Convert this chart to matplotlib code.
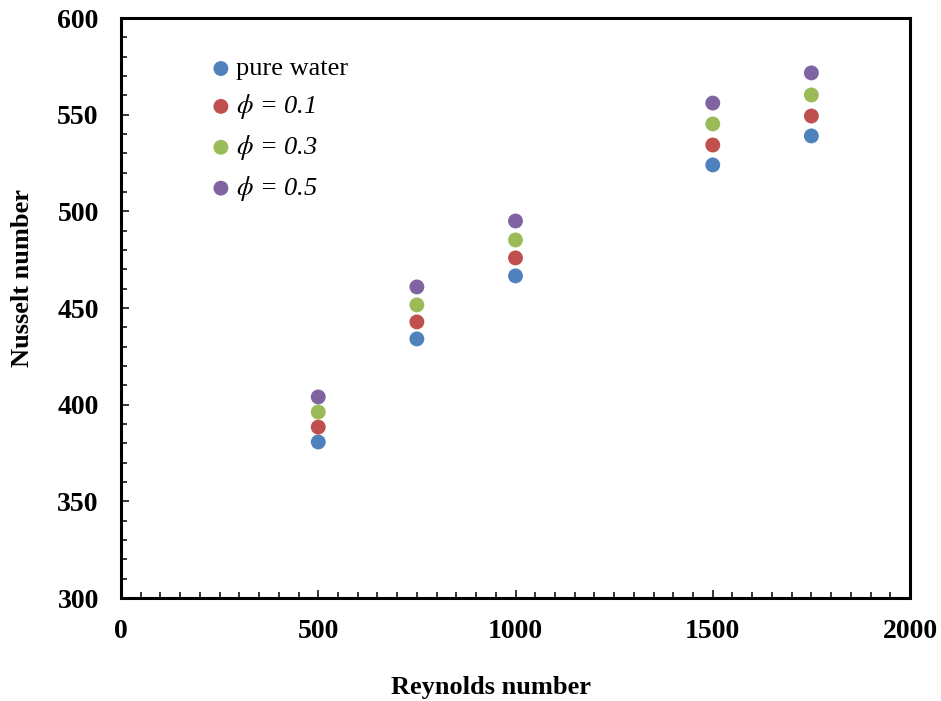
import matplotlib
matplotlib.use("Agg")
import matplotlib.pyplot as plt
from matplotlib.ticker import MultipleLocator

reynolds = [500, 750, 1000, 1500, 1750]
nu_water = [380.7, 434.0, 466.6, 524.0, 539.0]
nu_phi01 = [388.4, 442.8, 475.9, 534.3, 549.3]
nu_phi03 = [396.2, 451.6, 485.2, 545.2, 560.2]
nu_phi05 = [404.0, 460.9, 495.0, 556.0, 571.6]
labels = ["pure water", r"$\phi$ = 0.1", r"$\phi$ = 0.3", r"$\phi$ = 0.5"]
colors = ["#4F81BD", "#C0504D", "#9BBB59", "#8064A2"]

plt.rcParams["font.family"] = ["Liberation Serif", "DejaVu Serif"]
plt.rcParams["mathtext.fontset"] = "stix"

fig = plt.figure(figsize=(9.41, 7.01), dpi=100)
ax = fig.add_axes([121/941, 1-598/701, (910-121)/941, (598-18)/701])

series = [nu_water, nu_phi01, nu_phi03, nu_phi05]
for vals, lab, col in zip(series, labels, colors):
    ax.scatter(reynolds, vals, s=115, color=col, label=lab, edgecolors="none", zorder=3)

ax.set_xlim(0, 2000)
ax.set_ylim(300, 600)
ax.xaxis.set_major_locator(MultipleLocator(500))
ax.xaxis.set_minor_locator(MultipleLocator(50))
ax.yaxis.set_major_locator(MultipleLocator(50))
ax.yaxis.set_minor_locator(MultipleLocator(10))
ax.tick_params(which="both", direction="in", top=False, right=False, width=1.1)
ax.tick_params(which="major", length=5.5, labelsize=20)
ax.tick_params(axis="y", which="major", pad=16)
ax.tick_params(axis="x", which="major", pad=15)
ax.tick_params(which="minor", length=4)
for lab in ax.get_xticklabels() + ax.get_yticklabels():
    lab.set_fontweight("bold")
for sp in ax.spines.values():
    sp.set_linewidth(2.2)

ax.set_xlabel("Reynolds number", fontsize=19, fontweight="bold", labelpad=18)
ax.set_ylabel("Nusselt number", fontsize=19, fontweight="bold", labelpad=17)
ax.xaxis.set_label_coords(0.469, -0.135)
ax.yaxis.set_label_coords(-0.11, 0.552)

leg = ax.legend(loc="upper left", bbox_to_anchor=(0.0965, 0.951), frameon=False,
                fontsize=19, handlelength=1.0, handletextpad=0.07, labelspacing=0.45,
                borderaxespad=0, scatterpoints=1)
for i, t in enumerate(leg.get_texts()):
    if i > 0:
        t.set_fontstyle("italic")

fig.savefig("out.png", dpi=100)
